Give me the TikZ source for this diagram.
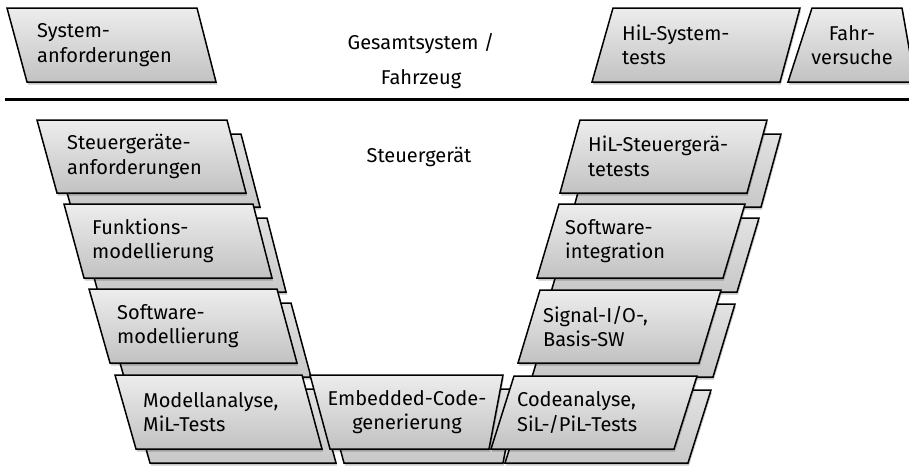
\documentclass[tikz,border=0pt]{standalone}
\usepackage{fontspec}
\setmainfont{Fira Sans}
\usetikzlibrary{shadows}
\definecolor{boxtop}{HTML}{EDEDED}
\definecolor{boxbot}{HTML}{C2C2C2}
\definecolor{backtop}{HTML}{E2E2E2}
\definecolor{backbot}{HTML}{C8C8C8}
\tikzset{
  boxface/.style={draw=black, line width=1.5pt, line join=miter, top color=boxtop, bottom color=boxbot,
    drop shadow={shadow xshift=1pt, shadow yshift=-2.5pt, opacity=0.22, fill=black}},
  boxback/.style={draw=black, line width=1.5pt, line join=miter, top color=backtop, bottom color=backbot,
    drop shadow={shadow xshift=1pt, shadow yshift=-2.5pt, opacity=0.22, fill=black}},
  lbl/.style={font=\fontsize{20}{24.5}\selectfont, align=left, inner sep=0pt, anchor=west},
  clbl/.style={font=\fontsize{20}{24.5}\selectfont, align=center, inner sep=0pt},
  hlbl/.style={font=\fontsize{20}{35}\selectfont, align=center, inner sep=0pt},
}
% #1 TLx #2 TRx #3 BRx #4 BLx #5 ytop #6 ybot
\newcommand\qface[6]{\path[boxface] (#1,#5) -- (#2,#5) -- (#3,#6) -- (#4,#6) -- cycle;}
\newcommand\qstack[6]{\path[boxback,shift={(14,14)}] (#1,#5) -- (#2,#5) -- (#3,#6) -- (#4,#6) -- cycle;
  \qface{#1}{#2}{#3}{#4}{#5}{#6}}
\begin{document}
\begin{tikzpicture}[x=1pt,y=-1pt]
\useasboundingbox (0,0) rectangle (909,466);
% top row
\qface{7}{197}{216}{27}{8}{82}
\node[lbl] (sysanf) at (37,45) {System-\\anforderungen};
\node[hlbl] (gesamt) at (421,61) {Gesamtsystem /\\Fahrzeug};
\qface{613}{800}{780}{592}{8}{82}
\node[lbl] (hilsys) at (622,45) {HiL-System-\\tests};
\qface{812}{902}{915}{788}{8}{82}
\node[clbl] (fahr) at (852,45) {Fahr-\\versuche};
% separator
\coordinate (hlA) at (5,99);
\coordinate (hlB) at (909,99);
\draw[line width=3pt] (hlA) -- (hlB);
\node[clbl] (steuer) at (419,157) {Steuergerät};
% left column
\qstack{37}{227}{246}{57}{120}{193}
\node[lbl] (anf) at (67,156.5) {Steuergeräte-\\anforderungen};
\qstack{64}{253}{272}{84}{204}{278}
\node[lbl] (funk) at (92,241) {Funktions-\\modellierung};
\qstack{89}{277}{297}{110}{289}{363}
\node[lbl] (swmod) at (117,326) {Software-\\modellierung};
% right column
\qstack{580}{767}{747}{560}{120}{193}
\node[lbl] (hilsg) at (588,156.5) {HiL-Steuergerä-\\tetests};
\qstack{559}{745}{723}{537}{204}{278}
\node[lbl] (swint) at (565,241) {Software-\\integration};
\qstack{540}{721}{699}{518}{290}{363}
\node[lbl] (sigio) at (543,326.5) {Signal-I/O-,\\Basis-SW};
% bottom row
\qstack{115}{302}{322}{136}{375}{449}
\node[lbl] (mil) at (143,412) {Modellanalyse,\\MiL-Tests};
\qstack{310}{503}{489}{330}{375}{449}
\node[clbl] (emb) at (407,412) {Embedded-Code-\\generierung};
\qstack{514}{697}{674}{491}{376}{449}
\node[lbl] (sil) at (517,412.5) {Codeanalyse,\\SiL-/PiL-Tests};
\end{tikzpicture}
\end{document}
